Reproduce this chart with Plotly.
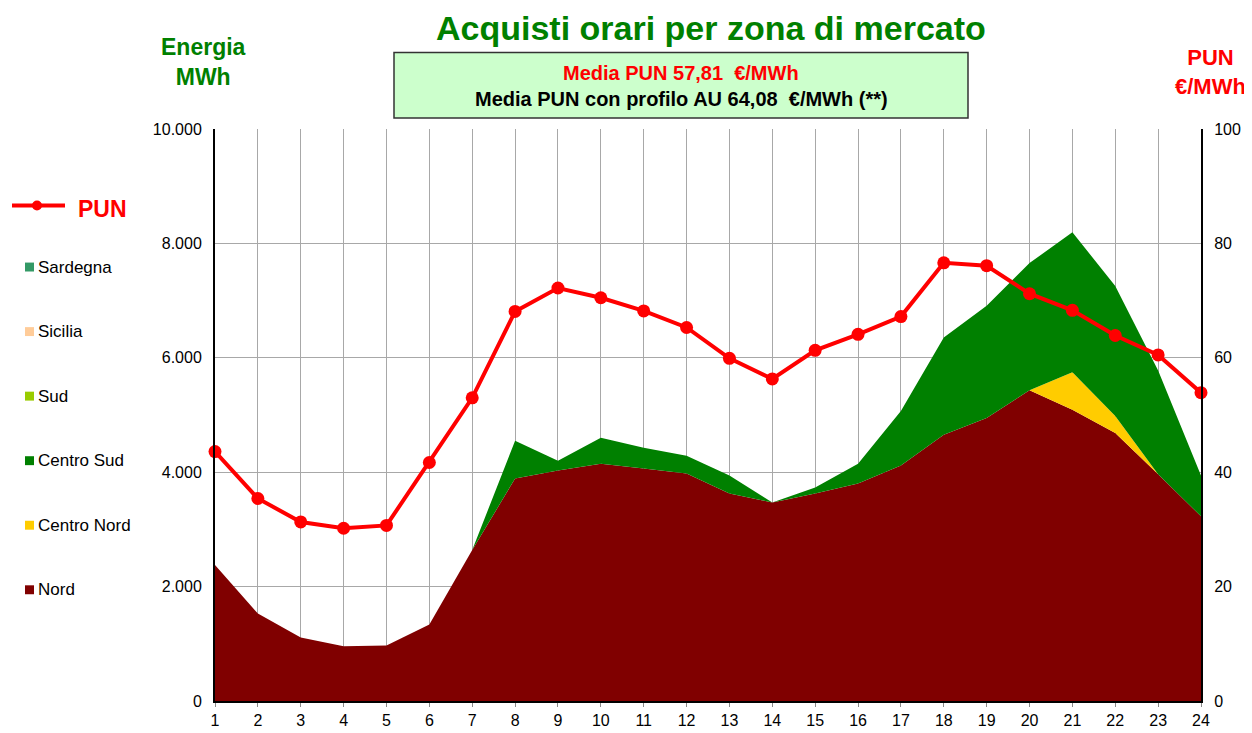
import plotly.graph_objects as go

hours = list(range(1, 25))
nord = [2378, 1528, 1111, 955, 972, 1337, 2639, 3889, 4028, 4149, 4063, 3976,
        3628, 3472, 3628, 3802, 4115, 4653, 4948, 5434, 5090, 4687, 3963, 3229]
centro_nord = [0, 0, 0, 0, 0, 0, 0, 0, 0, 0, 0, 0,
               0, 0, 0, 0, 0, 0, 0, 0, 656, 296, 0, 0]
centro_sud = [0, 0, 0, 0, 0, 0, 0, 660, 173, 452, 364, 312,
              313, 0, 105, 347, 954, 1701, 1962, 2222, 2448, 2274, 1817, 712]
sud = [0] * 24
sicilia = [0] * 24
sardegna = [0] * 24
pun = [43.6, 35.4, 31.3, 30.2, 30.7, 41.7, 53.0, 68.1, 72.2, 70.5, 68.2, 65.3,
       59.9, 56.3, 61.3, 64.1, 67.2, 76.6, 76.1, 71.2, 68.3, 63.9, 60.5, 53.9]

zones = [("Nord", nord, "#800000"), ("Centro Nord", centro_nord, "#FFCC00"),
         ("Centro Sud", centro_sud, "#008000"), ("Sud", sud, "#99CC00"),
         ("Sicilia", sicilia, "#FFCC99"), ("Sardegna", sardegna, "#339966")]

FONT = "Liberation Sans, Arial, sans-serif"
fig = go.Figure()
for name, vals, col in zones:
    fig.add_trace(go.Scatter(x=hours, y=vals, name=name, stackgroup="one",
                             mode="lines", line=dict(width=0, color=col),
                             fillcolor=col, showlegend=False))
fig.add_trace(go.Scatter(x=hours, y=pun, name="PUN", yaxis="y2", mode="lines+markers",
                         line=dict(color="#FF0000", width=4), cliponaxis=False,
                         marker=dict(color="#FF0000", size=13), showlegend=False))

# page body has an 8px margin: work in window coordinates and shift
OFF = 8
W, H = 1252, 733
# plot area in window coords
PX0, PX1, PY0, PY1 = 215, 1201, 129, 705
L = PX0 - OFF
T = PY0 - OFF
R = W - (PX1 - OFF)
B = H - (PY1 - OFF)
PW, PH = PX1 - PX0, PY1 - PY0

fig.update_layout(
    width=W, height=H, margin=dict(l=L, r=R, t=T, b=B),
    paper_bgcolor="white", plot_bgcolor="white",
    separators=",.", font=dict(family=FONT, size=16, color="black"),
    xaxis=dict(range=[1, 24], tickvals=hours, showgrid=True, gridcolor="#a8a8a8",
               gridwidth=1, showline=True, linecolor="black", linewidth=2,
               ticks="outside", ticklen=4, tickcolor="#888", zeroline=False,
               tickfont=dict(size=16)),
    yaxis=dict(range=[0, 10000], dtick=2000, tickformat=",d", showgrid=True,
               gridcolor="#a8a8a8", showline=True, linecolor="black", linewidth=2,
               ticks="outside", ticklen=8, tickcolor="white", zeroline=False,
               tickfont=dict(size=16)),
    yaxis2=dict(range=[0, 100], dtick=20, overlaying="y", side="right",
                showgrid=False, showline=True, linecolor="black", linewidth=2,
                ticks="outside", ticklen=8, tickcolor="white",
                zeroline=False, tickfont=dict(size=16)),
)

def px(x):
    return (x - PX0) / PW

def py(y):
    return (PY1 - y) / PH

ann = []
shapes = []
ann.append(dict(text="<b>Acquisti orari per zona di mercato</b>", x=px(711), y=py(27),
                xref="paper", yref="paper", showarrow=False,
                font=dict(size=34, color="#008000", family=FONT), xanchor="center", yanchor="middle"))
ann.append(dict(text="<b>Energia<br>MWh</b>", x=px(203), y=py(62), xref="paper", yref="paper",
                showarrow=False, font=dict(size=23, color="#008000", family=FONT),
                xanchor="center", yanchor="middle"))
ann.append(dict(text="<b>PUN<br>€/MWh</b>", x=px(1248), y=py(72), xref="paper", yref="paper",
                showarrow=False, font=dict(size=22, color="#FF0000", family=FONT),
                xanchor="right", yanchor="middle", align="center"))
shapes.append(dict(type="rect", xref="paper", yref="paper", x0=px(394), x1=px(968),
                   y0=py(118), y1=py(52), fillcolor="#CCFFCC", line=dict(color="#333", width=1.5)))
ann.append(dict(text="<b>Media PUN 57,81  €/MWh</b>", x=px(681), y=py(73), xref="paper",
                yref="paper", showarrow=False, font=dict(size=20, color="#FF0000", family=FONT),
                xanchor="center", yanchor="middle"))
ann.append(dict(text="<b>Media PUN con profilo AU 64,08  €/MWh (**)</b>", x=px(681), y=py(99),
                xref="paper", yref="paper", showarrow=False,
                font=dict(size=20, color="black", family=FONT), xanchor="center", yanchor="middle"))

# custom legend
shapes.append(dict(type="line", xref="paper", yref="paper", x0=px(12), x1=px(65),
                   y0=py(206), y1=py(206), line=dict(color="#FF0000", width=4)))
shapes.append(dict(type="circle", xref="paper", yref="paper", x0=px(32), x1=px(42),
                   y0=py(211), y1=py(201), fillcolor="#FF0000", line=dict(color="#FF0000", width=0)))
ann.append(dict(text="<b>PUN</b>", x=px(76), y=py(210), xref="paper", yref="paper",
                showarrow=False, font=dict(size=23, color="#FF0000", family=FONT),
                xanchor="left", yanchor="middle"))
leg_order = ["Sardegna", "Sicilia", "Sud", "Centro Sud", "Centro Nord", "Nord"]
colmap = {n: c for n, _, c in zones}
for i, name in enumerate(leg_order):
    yc = 268 + i * 65
    shapes.append(dict(type="rect", xref="paper", yref="paper", x0=px(25), x1=px(34),
                       y0=py(yc + 4.5), y1=py(yc - 4.5), fillcolor=colmap[name],
                       line=dict(width=0)))
    ann.append(dict(text=name, x=px(36), y=py(yc), xref="paper", yref="paper",
                    showarrow=False, font=dict(size=17, color="black", family=FONT),
                    xanchor="left", yanchor="middle"))

fig.update_layout(annotations=ann, shapes=shapes)
fig.write_html("out.html")
